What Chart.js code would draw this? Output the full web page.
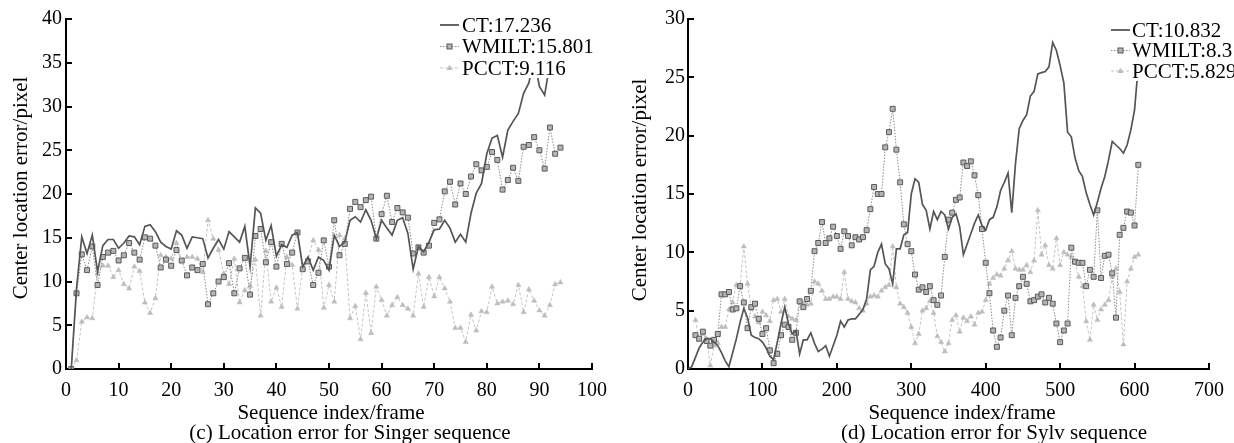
<!DOCTYPE html>
<html><head><meta charset="utf-8">
<script src="https://cdn.jsdelivr.net/npm/chart.js@4/dist/chart.umd.min.js"></script>
<style>
html,body{margin:0;padding:0;background:#fff;}
#wrap{position:relative;width:1234px;height:443px;overflow:hidden;background:#fff;}
.c{position:absolute;top:0;width:617px;height:443px;}
</style></head><body>
<div id="wrap">
<div class="c" style="left:0"><canvas id="c1" width="617" height="443"></canvas></div>
<div class="c" style="left:617px"><canvas id="c2" width="617" height="443"></canvas></div>
</div>
<script>
// ---------- Panel (c): Singer ----------
const singerFrames = [1,2,3,4,5,6,7,8,9,10,11,12,13,14,15,16,17,18,19,20,21,22,23,24,25,26,27,28,29,30,31,32,33,34,35,36,37,38,39,40,41,42,43,44,45,46,47,48,49,50,51,52,53,54,55,56,57,58,59,60,61,62,63,64,65,66,67,68,69,70,71,72,73,74,75,76,77,78,79,80,81,82,83,84,85,86,87,88,89,90,91,92,93,94];
const singerCT = [0,9.2,15.1,13.2,15.3,11.1,14.1,14.8,14.8,13.8,14.4,15.2,15.1,14.2,16.3,16.5,15.7,14.5,14.0,13.7,15.8,15.3,13.8,15.1,15.0,14.9,12.7,13.8,14.8,13.7,15.7,15.1,14.5,16.3,11.7,18.4,17.8,14.7,16.4,12.9,14.2,13.9,15.3,15.6,11.7,12.8,11.3,12.8,12.4,11.3,15.3,14.0,14.5,17.0,17.4,16.8,18.2,17.0,14.9,17.0,16.1,15.3,17.0,17.3,15.5,11.4,14.0,13.4,14.5,15.9,16.0,17.0,16.1,14.5,15.4,14.5,17.8,20.1,21.2,24.6,26.4,26.7,24.2,27.3,28.3,29.2,31.5,32.7,35.5,32.3,31.3,35.0,36.0,37.0];
const singerWMILT = [0,8.65,13.1,11.3,14.0,9.6,12.8,13.3,13.5,12.4,13.0,14.4,13.3,12.5,15.05,14.9,14.1,11.6,12.5,11.8,13.6,12.4,10.7,11.6,11.3,12.0,7.4,8.65,10.0,10.5,12.1,8.65,11.5,12.7,8.5,15.2,16.0,12.2,14.5,11.7,14.3,12.0,13.3,15.6,11.4,12.3,9.6,11.0,14.7,11.7,17.0,13.0,14.3,18.3,19.1,18.5,19.3,19.7,14.9,17.7,19.8,16.8,18.4,17.9,17.3,13.2,13.9,13.3,14.1,16.7,17.1,20.3,21.4,18.8,21.2,20.0,22.0,23.4,22.7,23.1,24.8,23.9,20.5,21.6,23.0,21.5,25.4,25.6,26.5,25.0,22.9,27.6,24.6,25.3];
const singerPCCT = [0,1.0,5.4,5.9,5.8,10.9,11.8,11.8,10.5,11.3,9.7,9.2,11.7,11.2,7.6,6.4,8.1,13.0,12.8,12.6,14.4,12.3,12.8,12.8,12.6,11.1,17.0,14.9,13.6,10.9,9.7,12.6,7.6,9.0,9.5,12.5,6.1,13.5,7.7,9.3,7.1,12.8,11.9,6.9,11.5,12.5,14.7,13.6,7.0,9.6,7.7,15.3,14.9,5.8,7.2,3.4,8.7,4.1,9.4,7.9,6.1,7.3,8.2,7.3,6.9,6.1,10.9,7.1,10.5,8.3,10.5,9.2,7.7,4.7,4.7,3.1,6.2,4.4,6.6,6.5,9.4,7.5,7.7,7.8,7.4,9.6,6.5,9.1,7.8,6.7,6.1,7.3,9.7,9.9];
const singerXTicks = [0,10,20,30,40,50,60,70,80,90,100];
const singerYTicks = [0,5,10,15,20,25,30,35,40];
const singerLegend = ["CT:17.236","WMILT:15.801","PCCT:9.116"];

// ---------- Panel (d): Sylv ----------
const sylvFrames = [0,5,10,15,20,25,30,35,40,45,50,55,60,65,70,75,80,85,90,95,100,105,110,115,120,125,130,135,140,145,150,155,160,165,170,175,180,185,190,195,200,205,210,215,220,225,230,235,240,245,250,255,260,265,270,275,280,285,290,295,300,305,310,315,320,325,330,335,340,345,350,355,360,365,370,375,380,385,390,395,400,405,410,415,420,425,430,435,440,445,450,455,460,465,470,475,480,485,490,495,500,505,510,515,520,525,530,535,540,545,550,555,560,565,570,575,580,585,590,595,600,605];
const sylvCT = [0,0.2,1.0,1.8,2.3,2.6,2.6,2.3,2.0,1.4,0.7,0.2,1.4,2.6,4.0,5.2,4.4,2.9,2.7,2.6,2.3,1.8,1.1,0.8,2.3,3.9,5.3,3.9,3.0,3.3,1.3,2.5,2.5,3.1,2.2,1.5,1.7,2.0,1.1,2.0,2.9,4.1,3.6,4.2,4.3,4.3,4.7,5.1,6.0,8.5,8.8,10.0,10.7,9.0,8.6,7.3,10.3,10.3,11.5,11.7,15.0,16.3,16.0,14.1,13.6,12.0,13.5,12.8,13.5,13.2,12.0,13.0,13.3,12.2,9.8,10.7,11.6,12.5,13.2,12.3,11.9,12.8,13.0,13.9,15.3,16.0,16.8,13.4,17.6,20.6,21.3,21.8,23.4,23.8,25.3,25.4,25.5,25.9,28.0,27.3,26.0,24.5,20.3,19.9,18.1,17.0,16.5,15.1,14.1,13.2,14.3,15.5,16.5,17.9,19.5,19.2,18.9,18.5,19.2,20.5,22.2,26.0];
const sylvWMILT = [null,null,2.9,2.6,3.2,2.4,2.0,2.5,3.0,6.4,6.4,6.6,5.1,5.2,7.1,5.7,3.5,5.3,5.6,4.3,3.0,3.5,1.6,0.5,1.3,2.9,3.8,3.6,2.5,3.1,5.8,5.3,6.0,6.7,10.1,10.8,12.6,10.8,11.2,12.2,11.4,10.3,11.8,11.4,10.6,11.3,11.1,11.3,11.9,13.7,15.6,15.0,15.0,19.0,20.3,22.3,18.8,16.0,12.4,10.7,10.1,8.1,6.8,7.0,6.6,7.1,5.9,5.5,6.3,9.6,12.8,13.4,14.5,14.7,17.7,17.4,17.8,16.6,14.9,12.0,9.1,6.5,3.3,1.9,2.7,5.0,6.3,2.9,6.1,7.1,7.9,7.3,5.8,5.9,6.2,6.4,5.7,6.1,5.6,3.9,2.3,3.3,3.9,10.4,9.2,9.1,9.1,7.1,8.5,7.9,13.6,7.8,9.7,9.8,8.2,4.4,11.5,12.1,13.5,13.4,12.3,17.5];
const sylvPCCT = [null,null,4.2,2.5,3.0,2.6,0.3,2.0,2.2,3.6,3.6,5.1,5.7,7.2,7.2,10.5,7.3,5.2,4.5,4.0,4.9,4.6,4.1,5.9,6.0,4.9,6.0,4.5,4.3,4.2,5.8,5.6,5.5,5.6,7.5,7.3,6.7,6.0,6.0,6.2,6.2,6.0,8.3,6.0,5.8,5.7,5.2,5.0,5.6,6.2,6.3,6.2,6.7,7.0,7.2,10.5,7.0,5.6,5.3,4.8,3.6,2.2,3.0,5.0,5.2,5.8,4.8,2.8,2.3,1.5,2.2,4.2,4.6,3.2,4.4,4.1,4.5,3.8,4.8,4.9,5.9,7.3,7.8,8.1,8.0,8.6,9.3,10.1,8.6,8.5,8.5,8.9,8.3,9.3,13.6,9.8,10.6,8.9,8.6,11.2,8.9,10.0,9.8,9.6,9.1,7.9,7.1,4.1,2.5,5.5,4.2,5.1,5.5,5.9,7.9,8.6,6.6,2.1,7.5,8.6,9.6,9.8];
const sylvXTicks = [0,100,200,300,400,500,600,700];
const sylvYTicks = [0,5,10,15,20,25,30];
const sylvLegend = ["CT:10.832","WMILT:8.3","PCCT:5.829"];

const yTitle = "Center location error/pixel";
const xTitle = "Sequence index/frame";
const singerCaption = "(c) Location error for Singer sequence";
const sylvCaption = "(d) Location error for Sylv sequence";

// ---------- styling ----------
const SERIF = "'Liberation Serif','Times New Roman',serif";
const CT_COLOR = '#555555';
const WM_LINE = '#8c8c8c', WM_FILL = '#b4b4b4', WM_EDGE = '#5a5a5a';
const PC_LINE = '#c4c4c4', PC_FILL = '#bdbdbd';

function pts(frames, vals){ return frames.map((f,i)=>({x:f, y:vals[i]})); }

function drawMarker(ctx, style, x, y){
  ctx.save();
  if (style === 'rect'){
    ctx.fillStyle = WM_FILL; ctx.strokeStyle = WM_EDGE; ctx.lineWidth = 1;
    ctx.fillRect(x-2.5, y-2.5, 5, 5); ctx.strokeRect(x-2.5, y-2.5, 5, 5);
  } else if (style === 'triangle'){
    ctx.fillStyle = PC_FILL; ctx.beginPath();
    ctx.moveTo(x, y-3.2); ctx.lineTo(x+3, y+2); ctx.lineTo(x-3, y+2); ctx.closePath(); ctx.fill();
  }
  ctx.restore();
}

function panelPlugin(p){
  return {
    id: 'panelDeco',
    afterDraw(chart){
      const ctx = chart.ctx, xs = chart.scales.x, ys = chart.scales.y;
      ctx.save();
      // inward tick marks
      ctx.strokeStyle = '#000'; ctx.lineWidth = 2;
      p.yTicks.forEach(v=>{ if (v===0) return; const py = Math.round(ys.getPixelForValue(v));
        ctx.beginPath(); ctx.moveTo(xs.left, py); ctx.lineTo(xs.left+6, py); ctx.stroke(); });
      p.xTicks.forEach(v=>{ if (v===0) return; const px = Math.round(xs.getPixelForValue(v));
        ctx.beginPath(); ctx.moveTo(px, ys.bottom); ctx.lineTo(px, ys.bottom-6); ctx.stroke(); });
      // legend box
      ctx.fillStyle = '#fff';
      ctx.fillRect(p.leg.boxX, p.leg.boxY, 617 - p.leg.boxX, p.leg.boxH);
      const items = [
        {color:CT_COLOR, w:1.8, dash:[], marker:null},
        {color:WM_LINE, w:1, dash:[1.5,1.5], marker:'rect'},
        {color:PC_LINE, w:1, dash:[3,2], marker:'triangle'}
      ];
      items.forEach((it,i)=>{
        const y = p.leg.y0 + i*p.leg.dy;
        ctx.strokeStyle = it.color; ctx.lineWidth = it.w; ctx.setLineDash(it.dash);
        ctx.beginPath(); ctx.moveTo(p.leg.x0, y); ctx.lineTo(p.leg.x1, y); ctx.stroke();
        ctx.setLineDash([]);
        if (it.marker) drawMarker(ctx, it.marker, (p.leg.x0+p.leg.x1)/2, y);
        ctx.fillStyle = '#000'; ctx.font = '21px ' + SERIF;
        ctx.textAlign = 'left'; ctx.textBaseline = 'middle';
        ctx.fillText(p.legend[i], p.leg.tx, y+1);
      });
      // axis titles and caption
      ctx.fillStyle = '#000'; ctx.font = '21px ' + SERIF;
      ctx.textAlign = 'center'; ctx.textBaseline = 'middle';
      ctx.fillText(xTitle, p.xTitleX, 413);
      ctx.fillText(p.caption, p.capX, 433);
      ctx.save();
      ctx.translate(p.yTitleX, p.yTitleY); ctx.rotate(-Math.PI/2);
      ctx.fillText(yTitle, 0, 0);
      ctx.restore();
      ctx.restore();
    }
  };
}

function makePanel(id, p){
  const datasets = [
    {label:'CT', data:pts(p.frames,p.ct), borderColor:CT_COLOR, borderWidth:1.7, pointRadius:0, tension:0},
    {label:'WMILT', data:pts(p.frames,p.wm), borderColor:WM_LINE, borderWidth:1, borderDash:[1.5,1.5],
      pointStyle:'rect', pointRadius:3.5, pointBorderWidth:1, pointBorderColor:WM_EDGE, pointBackgroundColor:WM_FILL, tension:0},
    {label:'PCCT', data:pts(p.frames,p.pc), borderColor:PC_LINE, borderWidth:1, borderDash:[3,2],
      pointStyle:'triangle', pointRadius:3, pointBorderWidth:0.5, pointBorderColor:PC_FILL, pointBackgroundColor:PC_FILL, tension:0}
  ];
  return new Chart(document.getElementById(id), {
    type:'line',
    data:{datasets},
    options:{
      responsive:false, animation:false, devicePixelRatio:1,
      layout:{padding:{left:0, right:p.padRight, top:19, bottom:0}},
      plugins:{legend:{display:false}, tooltip:{enabled:false}},
      scales:{
        x:{type:'linear', min:p.xTicks[0], max:p.xTicks[p.xTicks.length-1],
           afterBuildTicks:s=>{ s.ticks = p.xTicks.map(v=>({value:v})); },
           afterFit:s=>{ s.height = 74; },
           grid:{display:false, drawTicks:false},
           border:{display:true, color:'#000', width:2},
           ticks:{color:'#000', font:{family:SERIF, size:20}, padding:10, maxRotation:0, autoSkip:false}},
        y:{type:'linear', min:p.yTicks[0], max:p.yTicks[p.yTicks.length-1],
           afterBuildTicks:s=>{ s.ticks = p.yTicks.map(v=>({value:v})); },
           afterFit:s=>{ s.width = p.yWidth; },
           grid:{display:false, drawTicks:false},
           border:{display:true, color:'#000', width:2},
           ticks:{color:'#000', font:{family:SERIF, size:20}, padding:p.yPad}}
      }
    },
    plugins:[panelPlugin(p)]
  });
}

makePanel('c1', {
  frames:singerFrames, ct:singerCT, wm:singerWMILT, pc:singerPCCT,
  xTicks:singerXTicks, yTicks:singerYTicks, legend:singerLegend, caption:singerCaption,
  padRight:21, yWidth:66, yPad:4,
  xTitleX:331, capX:350, yTitleX:21, yTitleY:188,
  leg:{boxX:438, boxY:10, boxH:68, x0:440, x1:459, tx:462, y0:25, dy:21.5}
});
makePanel('c2', {
  frames:sylvFrames, ct:sylvCT, wm:sylvWMILT, pc:sylvPCCT,
  xTicks:sylvXTicks, yTicks:sylvYTicks, legend:sylvLegend, caption:sylvCaption,
  padRight:15, yWidth:71, yPad:3,
  xTitleX:345, capX:377, yTitleX:23, yTitleY:190,
  leg:{boxX:492, boxY:14, boxH:67, x0:494, x1:513, tx:515, y0:30, dy:20.5}
});
</script>
</body></html>
